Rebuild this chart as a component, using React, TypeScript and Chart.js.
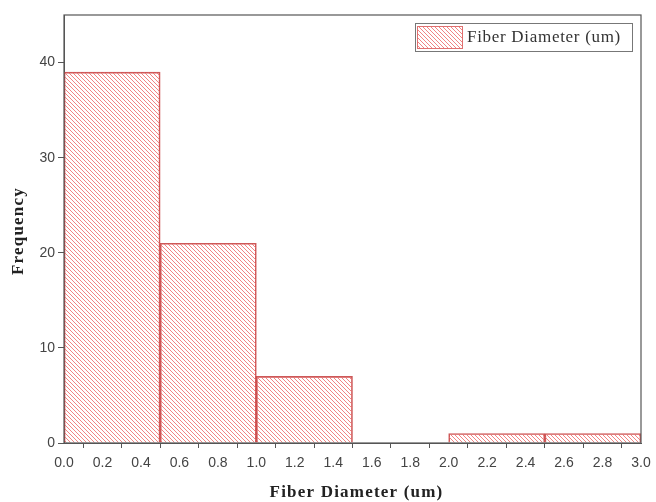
import React, { useEffect, useRef } from "react";
import { Chart, registerables } from "chart.js";

Chart.register(...registerables);

const binLabels = ["0.0-0.5", "0.5-1.0", "1.0-1.5", "1.5-2.0", "2.0-2.5", "2.5-3.0"];
const frequencies = [39, 21, 7, 0, 1, 1];
const seriesLabel = "Fiber Diameter (um)";
const xTitle = "Fiber Diameter (um)";
const yTitle = "Frequency";

function makeHatch(): CanvasPattern | string {
  const c = document.createElement("canvas");
  c.width = 4;
  c.height = 4;
  const g = c.getContext("2d");
  if (!g) return "rgba(240,120,120,0.5)";
  g.strokeStyle = "rgba(238,110,110,0.85)";
  g.lineWidth = 1;
  g.beginPath();
  g.moveTo(-1, -1);
  g.lineTo(5, 5);
  g.moveTo(-1, 3);
  g.lineTo(1, 5);
  g.moveTo(3, -1);
  g.lineTo(5, 1);
  g.stroke();
  const p = g.createPattern(c, "repeat");
  return p || "rgba(240,120,120,0.5)";
}

export default function App() {
  const ref = useRef<HTMLCanvasElement | null>(null);

  useEffect(() => {
    document.body.style.margin = "0";
    const canvas = ref.current;
    if (!canvas) return;
    const hatch = makeHatch();

    const framePlugin = {
      id: "frameAndLegend",
      afterDraw(chart: any) {
        const { ctx, chartArea } = chart;
        ctx.save();
        ctx.strokeStyle = "#555";
        ctx.lineWidth = 1.2;
        ctx.strokeRect(chartArea.left, chartArea.top, chartArea.right - chartArea.left, chartArea.bottom - chartArea.top);
        // legend
        const right = chartArea.right - 9;
        const top = chartArea.top + 8;
        const w = 217;
        const h = 28;
        const left = right - w;
        ctx.strokeStyle = "#777";
        ctx.lineWidth = 1;
        ctx.strokeRect(left + 0.5, top + 0.5, w, h);
        ctx.fillStyle = hatch as any;
        ctx.fillRect(left + 2, top + 3, 46, 23);
        ctx.strokeStyle = "#e07070";
        ctx.strokeRect(left + 2.5, top + 3.5, 45, 22);
        ctx.fillStyle = "#333";
        ctx.font = '17px "Liberation Serif", serif';
        (ctx as any).letterSpacing = "0.7px";
        ctx.textBaseline = "middle";
        ctx.textAlign = "left";
        ctx.fillText(seriesLabel, left + 52, top + h / 2 + 1);
        // axis titles
        ctx.fillStyle = "#222";
        ctx.font = 'bold 17px "Liberation Serif", serif';
        (ctx as any).letterSpacing = "1.2px";
        ctx.textAlign = "center";
        ctx.fillText(xTitle, (chartArea.left + chartArea.right) / 2 + 4, 493);
        ctx.translate(19, (chartArea.top + chartArea.bottom) / 2 + 2);
        ctx.rotate(-Math.PI / 2);
        ctx.fillText(yTitle, 0, 0);
        (ctx as any).letterSpacing = "0px";
        ctx.restore();
      },
    };

    const tickFont = { family: '"Liberation Sans", Arial, sans-serif', size: 14 };

    const chart = new Chart(canvas, {
      type: "bar",
      data: {
        labels: binLabels,
        datasets: [
          {
            label: seriesLabel,
            data: frequencies,
            backgroundColor: hatch as any,
            borderColor: "rgba(200,70,70,0.9)",
            borderWidth: 1,
            borderSkipped: "bottom",
            barPercentage: 1,
            categoryPercentage: 1,
            xAxisID: "x",
          },
        ],
      },
      options: {
        animation: false,
        responsive: false,
        maintainAspectRatio: false,
        layout: { padding: { left: 0, top: 15, right: 15, bottom: 0 } },
        plugins: {
          legend: { display: false },
          tooltip: { enabled: false },
        },
        scales: {
          x: {
            type: "category",
            display: false,
            offset: true,
          },
          xv: {
            type: "linear",
            position: "bottom",
            min: 0,
            max: 3,
            offset: false,
            grid: { display: true, drawOnChartArea: false, drawTicks: true, tickLength: 5, color: "#555" },
            border: { display: true, color: "#555" },
            ticks: {
              stepSize: 0.2,
              autoSkip: false,
              maxRotation: 0,
              padding: 7,
              color: "#444",
              font: tickFont,
              callback: (v: any) => Number(v).toFixed(1),
            },
            afterFit: (s: any) => {
              s.height = 59;
              s.paddingLeft = 0;
              s.paddingRight = 0;
            },
          },
          y: {
            type: "linear",
            min: 0,
            max: 45,
            grid: { display: true, drawOnChartArea: false, drawTicks: true, tickLength: 6, color: "#555" },
            border: { display: true, color: "#555" },
            afterBuildTicks: (s: any) => {
              s.ticks = s.ticks.filter((t: any) => t.value % 10 === 0);
            },
            ticks: {
              stepSize: 10,
              padding: 3,
              color: "#444",
              font: tickFont,
            },
            afterFit: (s: any) => {
              s.width = 64;
              s.paddingTop = 0;
              s.paddingBottom = 0;
            },
          },
        },
      },
      plugins: [framePlugin],
    });
    return () => chart.destroy();
  }, []);

  return (
    <div style={{ position: "fixed", left: 0, top: 0, width: 656, height: 502, background: "#fff" }}>
      <canvas ref={ref} width={656} height={502} style={{ width: 656, height: 502 }} />
    </div>
  );
}
